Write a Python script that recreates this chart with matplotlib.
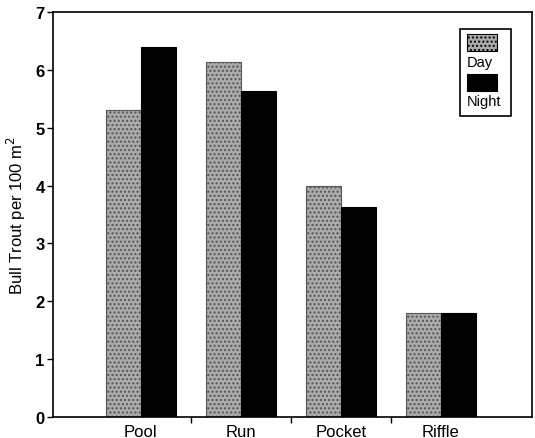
import matplotlib
matplotlib.use("Agg")
import matplotlib.pyplot as plt
import numpy as np
from matplotlib.patches import Rectangle

habitats = ["Pool", "Run", "Pocket", "Riffle"]
day = [5.30, 6.13, 4.00, 1.80]
night = [6.39, 5.63, 3.63, 1.80]

plt.rcParams.update({"font.family": ["Liberation Sans", "DejaVu Sans"],
                     "hatch.color": "#7a7a7a"})

fig = plt.figure(figsize=(5.35, 4.39), dpi=100)
ax = fig.add_axes([0.099, 0.048, 0.895, 0.922])

x = np.arange(len(habitats))
w = 0.35
ax.bar(x - w / 2, day, w, color="#ababab", edgecolor="#555555", linewidth=0.8,
       hatch="....", label="Day")
ax.bar(x + w / 2, night, w, color="black", edgecolor="black", linewidth=0.8,
       label="Night")

ax.set_xlim(-0.88, 3.91)
ax.set_ylim(0, 7)
ax.set_yticks(range(8))
ax.set_yticklabels([str(i) for i in range(8)], fontsize=12, fontweight="bold")
ax.set_xticks(x)
ax.set_xticklabels(habitats, fontsize=12)
ax.tick_params(axis="x", length=0, pad=5)
ax.set_xticks([0.5, 1.5, 2.5], minor=True)
ax.tick_params(axis="x", which="minor", length=4, width=1)
ax.tick_params(axis="y", length=4, width=1, pad=2)
ax.set_ylabel("Bull Trout per 100 m$^2$", fontsize=12, labelpad=5)
for s in ax.spines.values():
    s.set_linewidth(1.2)

# legend box: patches above their labels
ax.add_patch(Rectangle((0.85, 0.743), 0.106, 0.215, transform=ax.transAxes,
                       facecolor="white", edgecolor="black", lw=1.2, zorder=5))
ax.add_patch(Rectangle((0.864, 0.904), 0.063, 0.042,
                       transform=ax.transAxes, facecolor="#ababab",
                       edgecolor="black", lw=0.8, hatch="....", zorder=6))
ax.text(0.864, 0.877, "Day", transform=ax.transAxes, fontsize=10.5,
        va="center", ha="left", zorder=7)
ax.add_patch(Rectangle((0.864, 0.805), 0.063, 0.042,
                       transform=ax.transAxes, facecolor="black",
                       edgecolor="black", lw=0.8, zorder=6))
ax.text(0.864, 0.780, "Night", transform=ax.transAxes, fontsize=10.5,
        va="center", ha="left", zorder=7)

fig.savefig("out.png", dpi=100)
